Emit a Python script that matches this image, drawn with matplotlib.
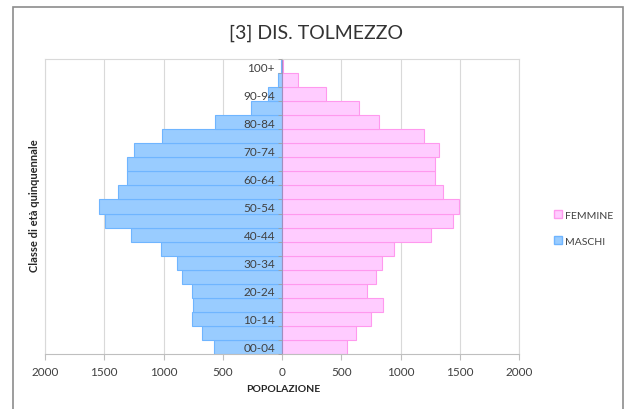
import matplotlib
matplotlib.use("Agg")
import matplotlib.pyplot as plt
from matplotlib.patches import Patch, Rectangle
from matplotlib.ticker import FuncFormatter, FixedLocator

plt.rcParams['font.family'] = ['Lato', 'DejaVu Sans']

age_classes = ["00-04", "05-09", "10-14", "15-19", "20-24", "25-29", "30-34",
               "35-39", "40-44", "45-49", "50-54", "55-59", "60-64", "65-69",
               "70-74", "75-79", "80-84", "85-89", "90-94", "95-99", "100+"]
maschi = [577, 674, 761, 750, 761, 845, 888, 1025, 1274, 1496, 1544, 1386,
          1310, 1310, 1245, 1012, 564, 262, 116, 30, 12]
femmine = [547, 623, 750, 851, 719, 795, 843, 949, 1260, 1446, 1496, 1361,
           1290, 1288, 1324, 1195, 817, 648, 372, 135, 10]
x_ticks = [-2000, -1500, -1000, -500, 0, 500, 1000, 1500, 2000]

W, H = 624, 410
fig = plt.figure(figsize=(W / 100, H / 100), dpi=100)
fig.patch.set_facecolor("white")

# outer chart frame
fig.patches.append(Rectangle((13 / W, -0.05), (623 - 13) / W, 1.05 - 8 / H,
                             transform=fig.transFigure, fill=False,
                             edgecolor="#8c8c8c", linewidth=1.2))

ax = fig.add_axes([45 / W, 1 - 355 / H, (519 - 45) / W, (355 - 60) / H])

pos = list(range(len(age_classes)))
neg_m = [-v for v in maschi]
ax.barh(pos, neg_m, height=1.0, color="#99CCFF", edgecolor="#6FB5FF",
        linewidth=0.8, label="MASCHI", zorder=2)
ax.barh(pos, femmine, height=1.0, color="#FFCCFF", edgecolor="#FF99EE",
        linewidth=0.8, label="FEMMINE", zorder=2)

ax.set_xlim(-2000, 2000)
ax.set_ylim(-0.5, len(age_classes) - 0.5)
ax.set_xticks(x_ticks)
ax.xaxis.set_major_formatter(FuncFormatter(lambda v, p: f"{abs(int(v))}"))
for xv in x_ticks:
    ax.axvline(xv, color="#D9D9D9", linewidth=0.8, zorder=0.5)
ax.set_axisbelow(False)

for s in ["top", "right"]:
    ax.spines[s].set_color("#D9D9D9")
ax.spines["bottom"].set_color("#BFBFBF")
ax.spines["left"].set_position(("data", 0))
ax.spines["left"].set_color("#A090C0")

# extra frame line on the left of the plot area
ax.plot([0, 0], [0, 1], transform=ax.transAxes, color="#D9D9D9", lw=0.8,
        clip_on=False, zorder=1)

label_pos = pos[::2]
ax.yaxis.set_major_locator(FixedLocator(label_pos))
ax.set_yticklabels([age_classes[i] for i in label_pos])
ax.yaxis.set_minor_locator(FixedLocator([p - 0.5 for p in pos] + [pos[-1] + 0.5]))
ax.tick_params(axis="y", which="major", length=0, pad=5, labelsize=8.5,
               labelcolor="#404040")
ax.tick_params(axis="y", which="minor", length=3, color="#A0A0A0")
ax.tick_params(axis="x", length=4, color="#BFBFBF", labelsize=8.5,
               labelcolor="#404040", pad=5)

fig.text(316 / W, 1 - 33 / H, "[3] DIS. TOLMEZZO", ha="center", va="center",
         fontsize=14, color="#333333")
fig.text(283 / W, 1 - 390 / H, "POPOLAZIONE", ha="center", va="center",
         fontsize=7.5, fontweight="bold", color="#262626")
fig.text(35 / W, 1 - 206 / H, "Classe di età quinquennale", ha="center",
         va="center", rotation=90, fontsize=8, fontweight="bold",
         color="#262626")

handles = [Patch(facecolor="#FFCCFF", edgecolor="#FF99EE", label="FEMMINE"),
           Patch(facecolor="#99CCFF", edgecolor="#6FB5FF", label="MASCHI")]
fig.legend(handles=handles, loc="center left",
           bbox_to_anchor=(545 / W, 1 - 229 / H), frameon=False,
           fontsize=7.5, handlelength=0.75, handleheight=0.75,
           handletextpad=0.3, labelspacing=1.6, labelcolor="#404040")

fig.savefig("out.png", dpi=100, facecolor="white")
